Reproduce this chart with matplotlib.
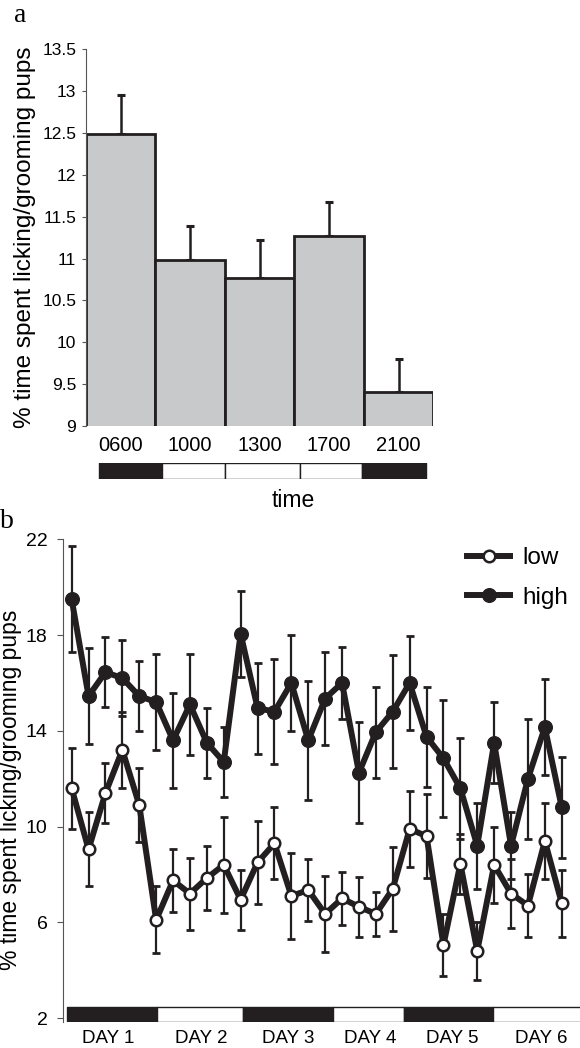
import matplotlib.pyplot as plt
import numpy as np

plt.rcParams['font.family'] = ['Liberation Sans', 'DejaVu Sans']

ink = '#231f20'

# panel a: licking/grooming by time of day
times = ['0600', '1000', '1300', '1700', '2100']
lg_mean = [12.49, 10.98, 10.77, 11.27, 9.41]
lg_sem = [0.46, 0.41, 0.45, 0.40, 0.39]
# light cycle bar under panel a (start, end, colour)
cycle_a = [(-0.32, 0.60, 'dark'), (0.60, 1.50, 'light'), (1.50, 2.58, 'light'),
           (2.58, 3.48, 'light'), (3.48, 4.40, 'dark')]

# panel b: 30 observation sessions over 6 days
high = [19.5, 15.45, 16.45, 16.2, 15.45, 15.2, 13.6, 15.1, 13.5, 12.7,
        18.05, 14.95, 14.8, 16.0, 13.6, 15.35, 16.0, 12.25, 13.95, 14.8,
        16.0, 13.75, 12.85, 11.6, 9.2, 13.5, 9.2, 12.0, 14.15, 10.8]
high_err = [2.2, 2.0, 1.45, 1.6, 1.45, 2.0, 2.0, 2.1, 1.45, 1.45,
            1.8, 1.9, 2.2, 2.0, 2.5, 1.95, 1.5, 2.1, 1.9, 2.35,
            1.95, 2.1, 2.45, 2.1, 1.8, 1.7, 1.4, 2.5, 2.0, 2.1]
low = [11.6, 9.05, 11.4, 13.2, 10.9, 6.1, 7.75, 7.2, 7.85, 8.4,
       6.95, 8.5, 9.3, 7.1, 7.35, 6.35, 7.0, 6.65, 6.35, 7.4,
       9.9, 9.6, 5.05, 8.45, 4.8, 8.4, 7.2, 6.7, 9.4, 6.8]
low_err = [1.7, 1.55, 1.25, 1.6, 1.55, 1.4, 1.3, 1.5, 1.35, 2.0,
           1.25, 1.75, 1.5, 1.8, 1.3, 1.6, 1.1, 1.25, 0.9, 1.75,
           1.6, 1.75, 1.3, 1.25, 1.2, 1.6, 1.45, 1.3, 1.6, 1.4]
days = ['DAY 1', 'DAY 2', 'DAY 3', 'DAY 4', 'DAY 5', 'DAY 6']
day_pos = [2.15, 7.69, 12.8, 17.65, 22.5, 27.8]
cycle_b = [(-0.26, 5.03, 'dark'), (5.03, 10.14, 'light'), (10.14, 15.44, 'dark'),
           (15.44, 19.66, 'light'), (19.66, 24.93, 'dark'), (24.93, 30.3, 'light')]

shade = {'dark': ink, 'light': 'white'}
ylab = '% time spent licking/grooming pups'

fig = plt.figure(figsize=(5.8, 10.48), dpi=100)

# ---- panel a ----
ax = fig.add_axes([0.1483, 0.5935, 0.5987, 0.3595])
x = np.arange(len(times))
ax.bar(x, lg_mean, width=1.0, bottom=0, color='#c8c9cb', edgecolor=ink,
       linewidth=2.0, zorder=2)
ax.errorbar(x, lg_mean, yerr=[np.zeros(5), lg_sem], fmt='none', ecolor=ink,
            elinewidth=1.8, capsize=3, capthick=2.2, zorder=1)
ax.set_xlim(-0.5, 4.5)
ax.set_ylim(9, 13.5)
ax.set_yticks([9, 9.5, 10, 10.5, 11, 11.5, 12, 12.5, 13, 13.5])
ax.set_yticklabels(['9', '9.5', '10', '10.5', '11', '11.5', '12', '12.5', '13', '13.5'])
ax.set_xticks(x)
ax.set_xticklabels(times)
for s in ['top', 'right', 'bottom']:
    ax.spines[s].set_visible(False)
ax.spines['left'].set_color('#555555')
ax.spines['left'].set_linewidth(0.8)
ax.tick_params(axis='y', direction='out', length=3, width=0.8, color='#555555',
               labelsize=12.5, pad=4)
ax.tick_params(axis='x', length=0, labelsize=14.5, pad=7)
ax.set_ylabel(ylab, fontsize=17.5, labelpad=6)
ax.yaxis.set_label_coords(-0.145, 0.5)

# light cycle bar for panel a
axc = fig.add_axes([0.1483, 0.543, 0.5987, 0.0153])
axc.broken_barh([(s, e - s) for s, e, c in cycle_a], (0, 1),
                facecolors=[shade[c] for s, e, c in cycle_a], edgecolor=ink,
                linewidth=1.0)
axc.set_xlim(-0.5, 4.5)
axc.set_ylim(0, 1)
axc.axis('off')
fig.text(293 / 580, 1 - 500 / 1048, 'time', ha='center', va='center', fontsize=16.5)
fig.text(20 / 580, 1 - 16 / 1048, 'a', ha='center', va='center', fontsize=20,
         family='Liberation Serif')

# ---- panel b ----
bx = fig.add_axes([0.1081, 0.0251, 0.8919, 0.4603])
t = np.arange(len(high))
bx.errorbar(t, high, yerr=high_err, fmt='none', ecolor=ink, elinewidth=1.6,
            capsize=3, capthick=2.0, zorder=2)
bx.errorbar(t, low, yerr=low_err, fmt='none', ecolor=ink, elinewidth=1.6,
            capsize=3, capthick=2.0, zorder=2)
bx.plot(t, low, '-o', color=ink, lw=4.3, ms=8.3, mfc='white', mec=ink, mew=1.8,
        label='low', zorder=4)
bx.plot(t, high, '-o', color=ink, lw=4.3, ms=9.8, mfc=ink, mec=ink,
        label='high', zorder=3)
bx.broken_barh([(s, e - s) for s, e, c in cycle_b], (1.85, 0.6),
               facecolors=[shade[c] for s, e, c in cycle_b], edgecolor=ink,
               linewidth=1.0, zorder=1)
bx.set_xlim(-0.53, 30.08)
bx.set_ylim(1.85, 22)
bx.set_yticks([2, 6, 10, 14, 18, 22])
bx.set_xticks(day_pos)
bx.set_xticklabels(days)
for s in ['top', 'right', 'bottom']:
    bx.spines[s].set_visible(False)
bx.spines['left'].set_color('#555555')
bx.spines['left'].set_linewidth(0.8)
bx.tick_params(axis='y', direction='out', length=4, width=0.8, color='#555555',
               labelsize=14, pad=7)
bx.tick_params(axis='x', length=0, labelsize=13.5, pad=6)
fig.text(11 / 580, 1 - 790 / 1048, ylab, rotation=90, ha='center', va='center',
         fontsize=16.5)
fig.text(7 / 580, 1 - 522 / 1048, 'b', ha='center', va='center', fontsize=20,
         family='Liberation Serif')
bx.legend(loc='upper left', bbox_to_anchor=(466.7 / 580, 1 - 547 / 1048),
          bbox_transform=fig.transFigure, frameon=False, borderpad=0,
          borderaxespad=0, handlelength=1.8, handletextpad=0.5,
          labelspacing=0.72, fontsize=17.5)

fig.savefig('out.png', dpi=100)
